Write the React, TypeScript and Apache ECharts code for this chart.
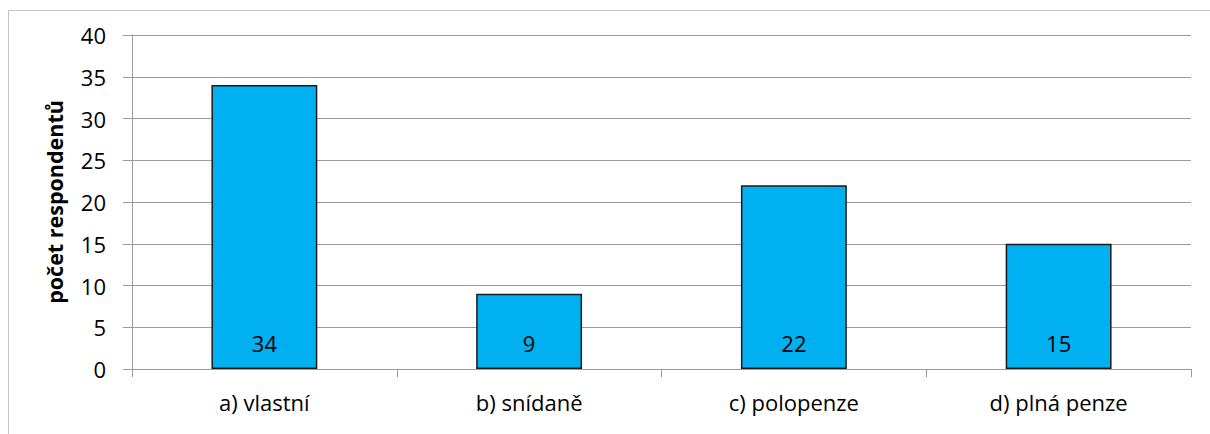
import React, { useEffect, useRef } from "react";
import * as echarts from "echarts";

const categories = ["a) vlastní", "b) snídaně", "c) polopenze", "d) plná penze"];
const respondents = [34, 9, 22, 15];
const yAxisTitle = "počet respondentů";

const FONT = "'Open Sans', 'Noto Sans', sans-serif";

export default function App() {
  const ref = useRef<HTMLDivElement>(null);
  useEffect(() => {
    const chart = echarts.init(ref.current!, null, { renderer: "svg" });
    chart.setOption({
      animation: false,
      textStyle: { fontFamily: FONT },
      graphic: [
        {
          type: "rect",
          shape: { x: 8.5, y: 10.5, width: 1210, height: 440 },
          style: { fill: "none", stroke: "#C4C4C4", lineWidth: 1 },
          silent: true,
        },
      ],
      grid: { left: 132, right: 19, top: 35, bottom: 65, containLabel: false },
      xAxis: {
        type: "category",
        data: categories,
        axisLine: { show: true, lineStyle: { color: "#9A9A9A", width: 1 } },
        axisTick: { show: true, length: 8, alignWithLabel: false, lineStyle: { color: "#9A9A9A" } },
        axisLabel: { color: "#000", fontSize: 22, margin: 22, fontFamily: FONT },
        splitLine: { show: false },
      },
      yAxis: {
        type: "value",
        min: 0,
        max: 40,
        interval: 5,
        name: yAxisTitle,
        nameLocation: "middle",
        nameGap: 67,
        nameTextStyle: { color: "#000", fontSize: 21.5, fontWeight: "bold", fontFamily: FONT },
        axisLine: { show: true, lineStyle: { color: "#9A9A9A", width: 1 } },
        axisTick: { show: true, length: 9, lineStyle: { color: "#9A9A9A" } },
        axisLabel: { color: "#000", fontSize: 22, margin: 26, fontFamily: FONT },
        splitLine: { show: true, lineStyle: { color: "#9A9A9A", width: 1 } },
      },
      series: [
        {
          type: "bar",
          data: respondents,
          barWidth: "40%",
          itemStyle: { color: "#00B0F0", borderColor: "#1A1A1A", borderWidth: 1.5 },
          label: {
            show: true,
            position: "insideBottom",
            distance: 15,
            color: "#000",
            fontSize: 22,
            fontFamily: FONT,
          },
        },
      ],
    });
    return () => chart.dispose();
  }, []);
  return (
    <div
      ref={ref}
      style={{ position: "absolute", left: 0, top: 0, width: 1210, height: 434, background: "#fff" }}
    />
  );
}
